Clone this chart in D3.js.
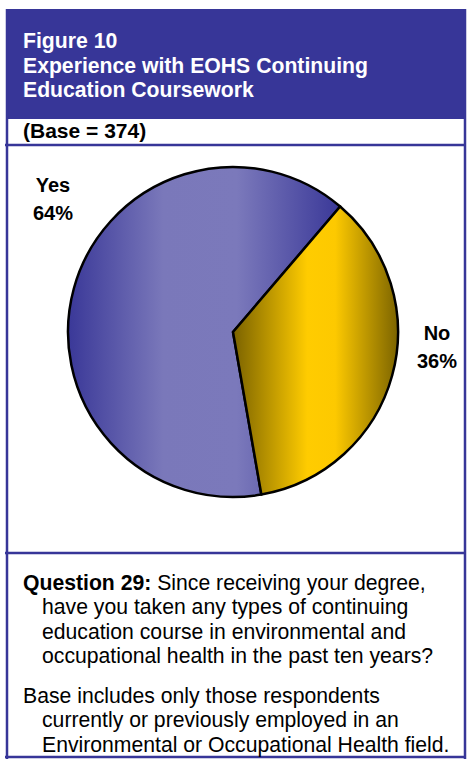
<!DOCTYPE html>
<html>
<head>
<meta charset="utf-8">
<script src="https://cdn.jsdelivr.net/npm/d3@7"></script>
<style>
  html, body { margin: 0; padding: 0; background: #ffffff; }
  svg { display: block; }
  text { font-family: "Liberation Sans", Arial, sans-serif; }
</style>
</head>
<body>
<svg id="chart" width="468" height="759"></svg>
<script>
// ---- data ----
const titleLines = ["Figure 10", "Experience with EOHS Continuing", "Education Coursework"];
const baseLabel = "(Base = 374)";
const categories = ["Yes", "No"];
const values = [64, 36];
const valueLabels = ["64%", "36%"];
const questionLines = [
  ["Question 29:", " Since receiving your degree,"],
  ["", "have you taken any types of continuing"],
  ["", "education course in environmental and"],
  ["", "occupational health in the past ten years?"]
];
const noteLines = [
  "Base includes only those respondents",
  "currently or previously employed in an",
  "Environmental or Occupational Health field."
];

const svg = d3.select("#chart");
const frameColor = "#373698";

// header band
svg.append("rect").attr("x", 6).attr("y", 9).attr("width", 460).attr("height", 110).attr("fill", frameColor);

// frame lines
const frame = svg.append("g").attr("stroke", frameColor).attr("stroke-width", 2.5).attr("fill", "none");
frame.append("line").attr("x1", 7).attr("x2", 7).attr("y1", 9).attr("y2", 759);
frame.append("line").attr("x1", 465).attr("x2", 465).attr("y1", 9).attr("y2", 759);
frame.append("line").attr("x1", 5).attr("x2", 466).attr("y1", 145).attr("y2", 145);
frame.append("line").attr("x1", 5).attr("x2", 466).attr("y1", 553).attr("y2", 553);
frame.append("line").attr("x1", 5).attr("x2", 466).attr("y1", 757).attr("y2", 757);

// title
svg.append("g").selectAll("text").data(titleLines).join("text")
  .attr("x", 23).attr("y", (d, i) => 48 + i * 24.6)
  .attr("fill", "#ffffff").attr("font-weight", "bold").attr("font-size", 21.2)
  .text(d => d);

svg.append("text").attr("x", 23).attr("y", 138)
  .attr("font-weight", "bold").attr("font-size", 21)
  .attr("fill", "#000")
  .text(baseLabel);

// pie
const cx = 233, cy = 332, r = 165;
const startA = 170.1 * Math.PI / 180;
const pie = d3.pie().sort(null).value(d => d).startAngle(startA).endAngle(startA + 2 * Math.PI);
const arcs = pie(values);
const arc = d3.arc().innerRadius(0).outerRadius(r);

const defs = svg.append("defs");
const gradStops = [
  [[0, "#3a3898"], [0.35, "#7a78ba"], [0.62, "#7b79bb"], [1, "#3a3898"]],
  [[0, "#7a6200"], [0.45, "#ffcc00"], [0.62, "#fdc900"], [1, "#7c6400"]]
];
categories.forEach((c, i) => {
  const g = defs.append("linearGradient").attr("id", "grad" + i)
    .attr("x1", 0).attr("x2", 1).attr("y1", 0).attr("y2", 0);
  gradStops[i].forEach(s => g.append("stop").attr("offset", s[0]).attr("stop-color", s[1]));
});

const pg = svg.append("g").attr("transform", `translate(${cx},${cy})`);
pg.selectAll("path").data(arcs).join("path")
  .attr("d", arc)
  .attr("fill", (d, i) => `url(#grad${i})`)
  .attr("stroke", "#000").attr("stroke-width", 2.5).attr("stroke-linejoin", "round");

// slice labels
const labelPos = [[53, 192], [437, 340]];
categories.forEach((c, i) => {
  const t = svg.append("text").attr("text-anchor", "middle")
    .attr("font-weight", "bold").attr("font-size", 20).attr("fill", "#000");
  t.append("tspan").attr("x", labelPos[i][0]).attr("y", labelPos[i][1]).text(c);
  t.append("tspan").attr("x", labelPos[i][0]).attr("y", labelPos[i][1] + 28).text(valueLabels[i]);
});

// question text
questionLines.forEach((l, i) => {
  const t = svg.append("text").attr("x", i === 0 ? 23 : 42).attr("y", 590 + i * 24.4)
    .attr("font-size", 21.2).attr("fill", "#000");
  if (l[0]) t.append("tspan").attr("font-weight", "bold").text(l[0]);
  t.append("tspan").text(l[1]);
});
noteLines.forEach((l, i) => {
  svg.append("text").attr("x", i === 0 ? 23 : 42).attr("y", 703 + i * 24.4)
    .attr("font-size", 21.2).attr("fill", "#000").text(l);
});
</script>
</body>
</html>
